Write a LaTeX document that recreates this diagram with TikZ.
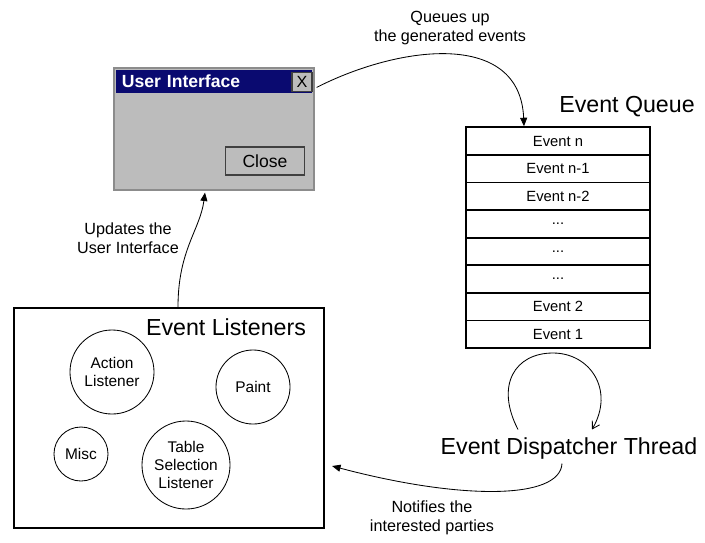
\documentclass[tikz,border=0pt]{standalone}
\usepackage{fontspec}
\setmainfont{Liberation Sans}
\usepackage{xcolor}
\definecolor{winbar}{RGB}{10,10,112}
\definecolor{winbody}{RGB}{188,188,188}
\usetikzlibrary{positioning, arrows.meta}

\begin{document}
\begin{tikzpicture}[
  x=0.025cm, y=-0.025cm,
  node distance=0pt,
  lbl/.style={font=\fontsize{11.5}{13.5}\selectfont, align=center, inner sep=1pt},
  heading/.style={font=\fontsize{16.5}{19}\selectfont, inner sep=1pt},
  qrow/.style={draw, line width=1.3pt, outer sep=0pt, inner sep=0pt,
               minimum width=4.6cm, minimum height=0.69cm,
               font=\fontsize{10.5}{12}\selectfont},
  listener/.style={circle, draw, line width=0.6pt, align=center, inner sep=0pt,
                   font=\fontsize{11}{13}\selectfont},
  uiwin/.style={draw=black!45, fill=winbody, line width=0.8pt,
                minimum width=5cm, minimum height=3.05cm},
  titlebar/.style={fill=winbar, text=white, minimum width=4.9cm, minimum height=0.575cm,
                   text width=4.6cm, inner xsep=0.15cm, align=left,
                   font=\bfseries\fontsize{12.5}{14}\selectfont},
  winbtn/.style={draw=black!75, fill=winbody, line width=0.8pt, inner sep=0pt},
  arr/.style={-{Triangle[length=6pt, width=5pt]}, line width=0.6pt},
  looparr/.style={-{Straight Barb[length=5pt, width=6pt]}, line width=0.6pt},
]
  \useasboundingbox (0,0) rectangle (705,542);

  % User interface window
  \node[uiwin] (ui) at (214,129) {};
  \node[titlebar, anchor=north] (title) at ([yshift=-1.5pt]ui.north) {User Interface};
  \node[winbtn, minimum width=0.5cm, minimum height=0.48cm,
        font=\fontsize{11.5}{12}\selectfont] (xbtn) at (302,82) {X};
  \node[winbtn, minimum width=1.98cm, minimum height=0.7cm,
        font=\fontsize{12.5}{14}\selectfont] (close) at (265,161) {Close};

  % Event queue
  \node[heading] (qtitle) at (627,107) {Event Queue};
  \node[qrow] (evn) at (558,141) {Event n};
  \node[qrow, below=of evn] (evn1) {Event n-1};
  \node[qrow, below=of evn1] (evn2) {Event n-2};
  \node[qrow, below=of evn2] (dotsa) {...};
  \node[qrow, below=of dotsa] (dotsb) {...};
  \node[qrow, below=of dotsb] (dotsc) {...};
  \node[qrow, below=of dotsc] (ev2) {Event 2};
  \node[qrow, below=of ev2] (ev1) {Event 1};

  % Event listeners
  \node[draw, line width=1.5pt, minimum width=7.75cm, minimum height=5.5cm] (lst) at (169,418) {};
  \node[heading] (lsttitle) at (226,327) {Event Listeners};
  \node[listener, minimum size=2.1cm] (action) at (112,372) {Action\\Listener};
  \node[listener, minimum size=1.85cm] (paint) at (253,387) {Paint};
  \node[listener, minimum size=1.35cm] (misc) at (81,454) {Misc};
  \node[listener, minimum size=2.2cm] (table) at (186,465) {Table\\Selection\\Listener};

  % Dispatcher
  \node[heading] (disp) at (569,448) {Event Dispatcher Thread};

  % Labels
  \node[lbl] (queuelbl) at (450,28) {Queues up\\the generated events};
  \node[lbl] (updatelbl) at (128,238) {Updates the\\User Interface};
  \node[lbl] (notifylbl) at (432,518) {Notifies the\\interested parties};

  % Arrows
  \draw[arr] ([shift={(2,20)}]ui.north east) .. controls (400,45) and (520,30) .. ([shift={(-34,-1)}]evn.north);
  \draw[arr] ([shift={(9,0)}]lst.north) .. controls (178,250) and (200,230) .. ([shift={(-9,2)}]ui.south);
  \draw[looparr] ([shift={(-51,-6)}]disp.north) .. controls (495,385) and (515,353) .. (553,353)
                 .. controls (590,353) and (615,390) .. ([shift={(23,-6)}]disp.north);
  \draw[arr] ([shift={(-7,3)}]disp.south) .. controls (560,500) and (460,500) .. ([shift={(7,48)}]lst.east);
\end{tikzpicture}
\end{document}
